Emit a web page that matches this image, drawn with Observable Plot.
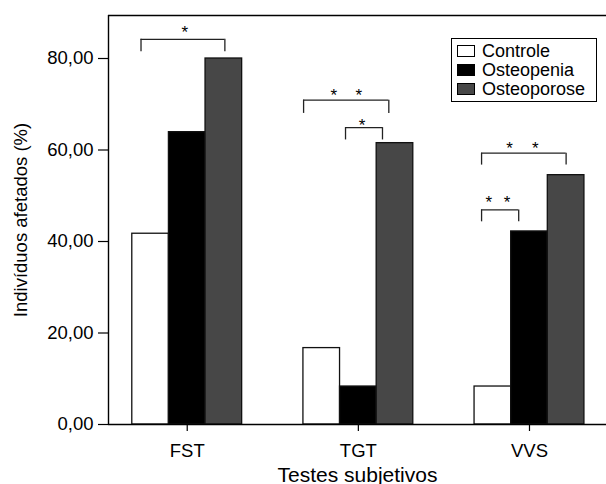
<!DOCTYPE html>
<html><head><meta charset="utf-8">
<script src="https://cdn.jsdelivr.net/npm/d3@7"></script>
<script src="https://cdn.jsdelivr.net/npm/@observablehq/plot@0.6"></script>
<style>
body{margin:0;background:#fff;}
#wrap{position:relative;width:606px;height:484px;font-family:"Liberation Sans",Arial,sans-serif;}
#legend{position:absolute;left:451px;top:38px;width:144px;height:62px;border:1.4px solid #000;background:#fff;}
.item{position:absolute;left:5px;height:18px;line-height:18px;display:flex;align-items:center;font-size:18px;color:#000;white-space:nowrap;}
.sw{width:16px;height:10px;border:1.4px solid #000;margin-right:7px;}
</style></head>
<body><div id="wrap"></div>
<script>
const tests = ["FST", "TGT", "VVS"];
const groups = ["Controle", "Osteopenia", "Osteoporose"];
const controle = [41.7, 16.7, 8.3];
const osteopenia = [63.9, 8.3, 42.2];
const osteoporose = [80.0, 61.5, 54.5];
const fills = ["#ffffff", "#000000", "#474747"];
const yTicks = [0, 20, 40, 60, 80];
// significance brackets (data units)
const brX1 = [-0.27, 0.68, 0.925, 1.72, 1.72];
const brX2 = [0.22, 1.178, 1.141, 2.214, 1.937];
const brTop = [84.2, 70.9, 64.9, 59.3, 46.9];
const brLeg = [81.5, 68.0, 62.2, 56.7, 44.3];
const starX = [-0.014, 0.856, 1.002, 1.022, 1.884, 2.034, 1.762, 1.869];
const starY = [86.6, 72.8, 72.8, 66.3, 61.3, 61.3, 49.3, 49.3];
const X_DOMAIN = [-0.46, 2.45];
const Y_DOMAIN = [0, 89.4];
const BAR_W = 0.214;

const series = [controle, osteopenia, osteoporose];
const bars = [];
tests.forEach((t, i) => groups.forEach((g, j) => {
  const x1 = i + (j - 1) * BAR_W - BAR_W / 2;
  bars.push({test: t, group: g, x1, x2: x1 + BAR_W, value: series[j][i]});
}));
const brackets = brX1.map((x1, k) => ({x1, x2: brX2[k], top: brTop[k], leg: brLeg[k]}));
const legs = brackets.flatMap(b => [{x: b.x1, y1: b.leg, y2: b.top}, {x: b.x2, y1: b.leg, y2: b.top}]);
const stars = starX.map((x, k) => ({x, y: starY[k]}));

const chart = Plot.plot({
  width: 606, height: 484,
  marginTop: 15, marginBottom: 60, marginLeft: 108, marginRight: 0,
  style: {fontFamily: "'Liberation Sans', Arial, sans-serif", fontSize: "18.5px", color: "#000", background: "transparent"},
  x: {type: "linear", domain: X_DOMAIN},
  y: {domain: Y_DOMAIN},
  color: {domain: groups, range: fills},
  marks: [
    Plot.rectY(bars, {x1: "x1", x2: "x2", y1: 0, y2: "value", fill: "group", stroke: "#111", strokeWidth: 1.3}),
    Plot.ruleY([Y_DOMAIN[0]], {stroke: "#000", strokeWidth: 1.4}),
    Plot.ruleY([Y_DOMAIN[1]], {stroke: "#000", strokeWidth: 1.4}),
    Plot.ruleX([X_DOMAIN[0]], {stroke: "#000", strokeWidth: 1.4}),
    Plot.ruleY(brackets, {y: "top", x1: "x1", x2: "x2", stroke: "#222", strokeWidth: 1.3}),
    Plot.ruleX(legs, {x: "x", y1: "y1", y2: "y2", stroke: "#222", strokeWidth: 1.3}),
    Plot.text(stars, {x: "x", y: "y", text: () => "*", fontSize: 17, dy: 4}),
    Plot.axisY({ticks: yTicks, tickSize: 10, tickPadding: 5, strokeWidth: 1.2,
      tickFormat: d => d.toFixed(2).replace(".", ","),
      label: "Indivíduos afetados (%)", labelAnchor: "center", labelArrow: false, labelOffset: 95}),
    Plot.axisX({ticks: [0, 1, 2], tickSize: 7, tickPadding: 12, strokeWidth: 1.2,
      tickFormat: i => tests[i], label: null}),
    Plot.axisX({ticks: [], label: "Testes subjetivos", labelAnchor: "center", labelArrow: false,
      labelOffset: 57, fontSize: 21})
  ]
});
const wrap = document.getElementById("wrap");
wrap.appendChild(chart);
const legend = document.createElement("div");
legend.id = "legend";
groups.forEach((g, j) => {
  const it = document.createElement("div");
  it.className = "item";
  it.style.top = (3.2 + j * 18.7) + "px";
  const sw = document.createElement("span");
  sw.className = "sw";
  sw.style.background = fills[j];
  it.appendChild(sw);
  it.appendChild(document.createTextNode(g));
  legend.appendChild(it);
});
wrap.appendChild(legend);
</script>
</body></html>
